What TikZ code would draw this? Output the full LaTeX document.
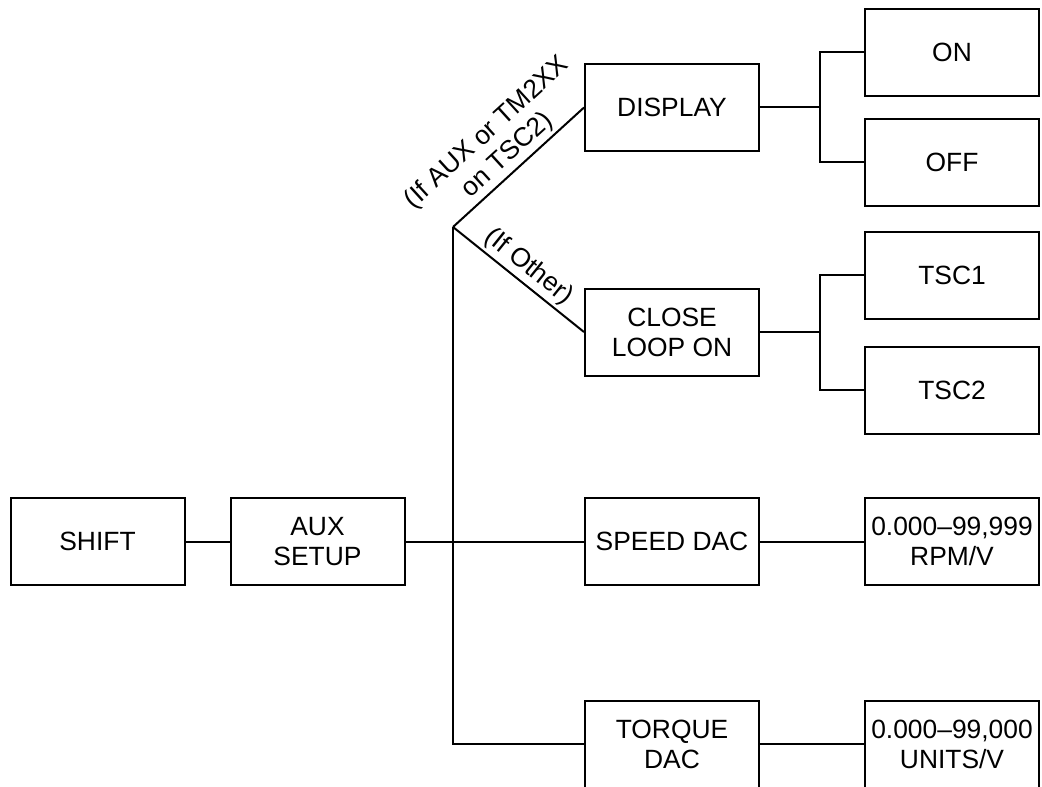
\documentclass[tikz,border=0pt]{standalone}
\usepackage{fontspec}
\setmainfont{Liberation Sans}
\usepackage{tikz}
\usetikzlibrary{positioning, calc}

\begin{document}
\begin{tikzpicture}[x=0.5pt, y=-0.5pt,
        blk/.style={draw, line width=1pt, minimum width=87pt, minimum height=43.5pt, inner sep=0pt, align=center, font=\fontsize{13.2}{15}\selectfont},
        labsl/.style={font=\fontsize{13.2}{15}\selectfont, align=center, sloped, above, inner sep=1.5pt}
    ]

    \clip (0,0) rectangle (1042,786);

    \node[blk] (shift) at (97.5, 541.5) {SHIFT};
    \node[blk] (auxs) at (317.5, 541.5) {AUX\\ SETUP};
    \coordinate (junc) at (453, 227);

    \node[blk] (disp) at (672, 107.5) {DISPLAY};
    \node[blk] (close) at (672, 332) {CLOSE\\ LOOP ON};
    \node[blk] (speed) at (672, 541.5) {SPEED DAC};
    \node[blk] (tdac) at (672, 744) {TORQUE\\ DAC};

    \node[blk] (on) at (952, 52.5) {ON};
    \node[blk] (off) at (952, 162.5) {OFF};
    \node[blk] (tsc1) at (952, 275) {TSC1};
    \node[blk] (tsc2) at (952, 390) {TSC2};
    \node[blk] (sval) at (952, 541.5) {0.000--99,999\\ RPM/V};
    \node[blk] (tval) at (952, 744) {0.000--99,000\\ UNITS/V};

    \coordinate (brA) at (820, 107.5);
    \coordinate (brB) at (820, 332);

    \draw[line width=1pt] (shift) -- (auxs);
    \draw[line width=1pt] (auxs) -- (speed);
    \draw[line width=1pt] (junc) -- (disp.west) node[labsl, midway] {(If AUX or TM2XX\\ on TSC2)};
    \draw[line width=1pt] (junc) -- (close.west) node[labsl, midway] {(If Other)};
    \draw[line width=1pt] (junc) |- (tdac.west);
    \draw[line width=1pt] (tdac) -- (tval);
    \draw[line width=1pt] (speed) -- (sval);

    \draw[line width=1pt] (disp) -- (brA);
    \draw[line width=1pt] (on.west) -| (brA) |- (off.west);
    \draw[line width=1pt] (close) -- (brB);
    \draw[line width=1pt] (tsc1.west) -| (brB) |- (tsc2.west);

    \end{tikzpicture}
\end{document}
